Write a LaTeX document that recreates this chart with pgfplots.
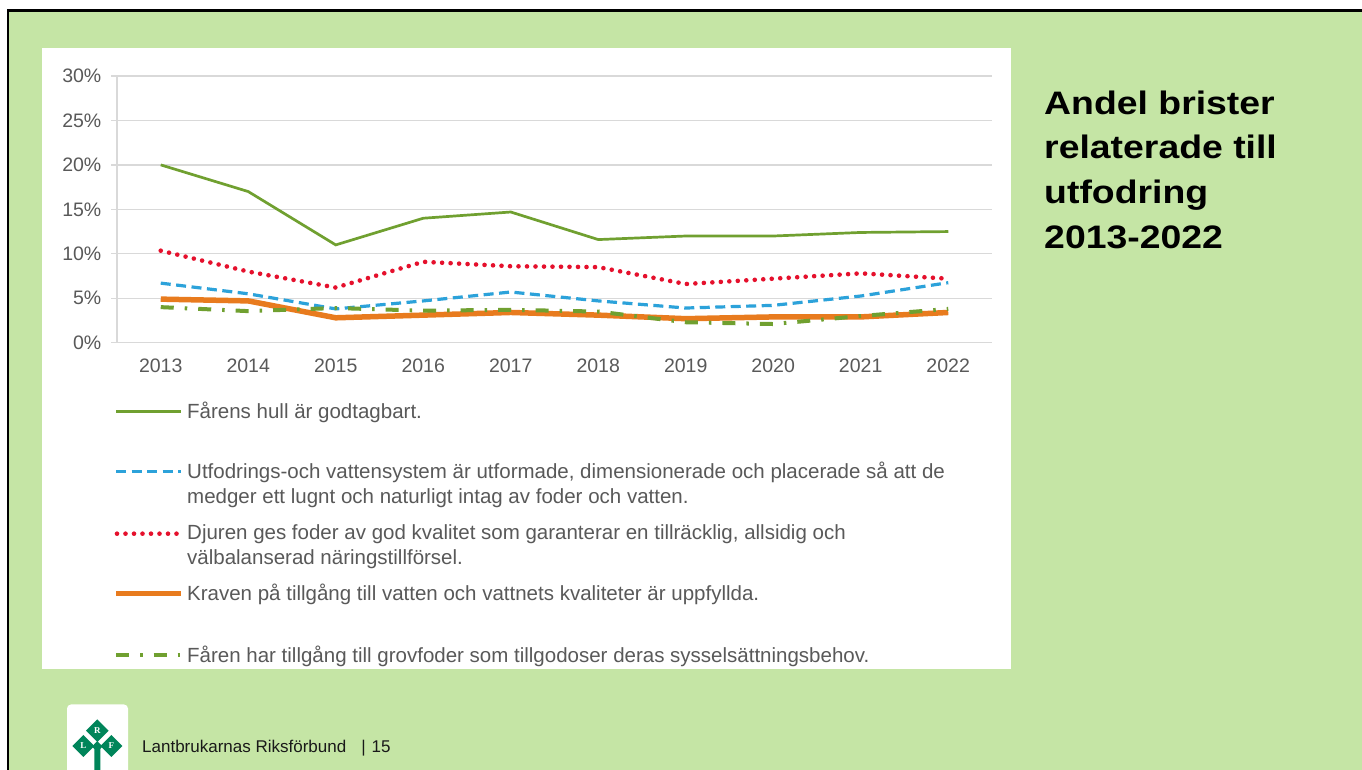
\documentclass[border=0pt]{standalone}
\usepackage{fontspec}
\setmainfont{Liberation Sans}
\newfontfamily\logofont{Liberation Serif}
\usepackage{pgfplots}
\usepackage{pgfplotstable}
\pgfplotsset{compat=1.18}
\definecolor{bggreen}{HTML}{C5E5A5}
\definecolor{txtgray}{HTML}{595959}
\definecolor{gridgray}{HTML}{D9D9D9}
\definecolor{lgreen}{HTML}{70A030}
\definecolor{lblue}{HTML}{2CA2DA}
\definecolor{lred}{HTML}{E5102C}
\definecolor{lorange}{HTML}{E87B1E}
\definecolor{logogreen}{HTML}{00855A}

\pgfplotstableread{
year hull system kvalitet vatten grov
2013 20.0 6.70 10.35 4.9 4.00
2014 17.0 5.50 8.00 4.7 3.55
2015 11.0 3.80 6.20 2.8 3.90
2016 14.0 4.70 9.10 3.1 3.60
2017 14.7 5.70 8.60 3.4 3.70
2018 11.6 4.70 8.50 3.1 3.50
2019 12.0 3.90 6.60 2.7 2.30
2020 12.0 4.20 7.20 2.9 2.10
2021 12.4 5.25 7.80 2.9 3.00
2022 12.5 6.75 7.20 3.4 3.80
}\datatable

\tikzset{
 sHull/.style={color=lgreen, line width=2.7pt},
 sSys/.style={color=lblue, line width=3.2pt, dash pattern=on 10pt off 5.5pt},
 sKval/.style={color=lred, line width=4.6pt, line cap=round, dash pattern=on 0pt off 8.5pt},
 sVatten/.style={color=lorange, line width=5.5pt},
 sGrov/.style={color=lgreen, line width=4pt, dash pattern=on 13pt off 11pt on 2.5pt off 11pt},
}

\begin{document}
\begin{tikzpicture}[x=1pt,y=1pt]
\useasboundingbox (0,0) rectangle (1362,770);
\fill[white] (0,0) rectangle (1362,770);
\fill[bggreen] (9,0) rectangle (1362,758);
\draw[black,line width=2.5pt] (7.85,0) -- (7.85,759.35) -- (1362,759.35);
\fill[white] (42,101) rectangle (1011,722);

\begin{axis}[
 at={(117pt,427.3pt)}, anchor=south west, scale only axis,
 width=875pt, height=266.7pt,
 xmin=2012.5, xmax=2022.5, ymin=0, ymax=30,
 xtick={2013,...,2022}, ytick={0,5,...,30},
 axis lines*=left,
 axis line style={draw=gridgray, line width=1.3pt},
 ymajorgrids, grid style={draw=gridgray, line width=1.3pt},
 xtick style={draw=none},
 ytick style={draw=gridgray, line width=1.3pt},
 tick align=outside, major tick length=6pt,
 ticklabel style={font=\fontsize{19.5}{23}\selectfont, text=txtgray},
 yticklabel style={inner sep=0pt, xshift=-9.5pt},
 xticklabel style={inner sep=0pt, yshift=-10pt},
 /pgf/number format/assume math mode=true,
 /pgf/number format/1000 sep={},
 yticklabel={\pgfmathprintnumber{\tick}\%},
 clip=false,
]
\addplot[sHull] table[x=year,y=hull]{\datatable};
\addplot[sSys] table[x=year,y=system]{\datatable};
\addplot[sKval] table[x=year,y=kvalitet]{\datatable};
\addplot[sVatten] table[x=year,y=vatten]{\datatable};
\addplot[sGrov] table[x=year,y=grov]{\datatable};
\end{axis}

% legend
\begin{scope}[every node/.style={anchor=base west, inner sep=0pt, align=left, text=txtgray, font=\fontsize{20.5}{24.3}\selectfont}]
\draw[sHull] (116,358.3) -- (181,358.3);
\node at (187,351) {Fårens hull är godtagbart.};
\draw[sSys] (116,298.3) -- (181,298.3);
\node at (187,266.7) {Utfodrings-och vattensystem är utformade, dimensionerade och placerade så att de\\medger ett lugnt och naturligt intag av foder och vatten.};
\draw[sKval] (117,236.3) -- (181,236.3);
\node at (187,205.7) {Djuren ges foder av god kvalitet som garanterar en tillräcklig, allsidig och\\välbalanserad näringstillförsel.};
\draw[sVatten] (116,176.3) -- (181,176.3);
\node at (187,169) {Kraven på tillgång till vatten och vattnets kvaliteter är uppfyllda.};
\draw[sGrov] (116,114.7) -- (181,114.7);
\node at (187,107.3) {Fåren har tillgång till grovfoder som tillgodoser deras sysselsättningsbehov.};
\end{scope}

% title
\node[anchor=base west, inner sep=0pt, align=left, font=\bfseries\fontsize{32.5}{44.7}\selectfont, xscale=1.15] at (1044,521.6) {Andel brister\\relaterade till\\utfodring\\2013-2022};

% logo
\fill[white, rounded corners=4pt] (67,-10) rectangle (128,65.5);
\fill[logogreen] (97.3,50.6)--(108.6,39.3)--(97.3,28)--(86,39.3)--cycle;
\fill[logogreen] (83.3,35)--(94.3,24)--(83.3,13)--(72.3,24)--cycle;
\fill[logogreen] (111.3,35)--(122.3,24)--(111.3,13)--(100.3,24)--cycle;
\fill[logogreen] (97.3,29)--(102.5,23.5)--(100.3,21)--(100.3,0)--(94.3,0)--(94.3,21)--(92.1,23.5)--cycle;
\node[text=white, font=\logofont\bfseries\fontsize{9}{9}\selectfont] at (97.3,39.5) {R};
\node[text=white, font=\logofont\bfseries\fontsize{9}{9}\selectfont] at (83.3,24) {L};
\node[text=white, font=\logofont\bfseries\fontsize{9}{9}\selectfont] at (111.3,24) {F};

% footer
\node[anchor=base west, inner sep=0pt, text=black!90, font=\fontsize{17}{20}\selectfont] at (142,17) {Lantbrukarnas Riksförbund\hspace{15pt}|\hspace{6pt}15};
\end{tikzpicture}
\end{document}
